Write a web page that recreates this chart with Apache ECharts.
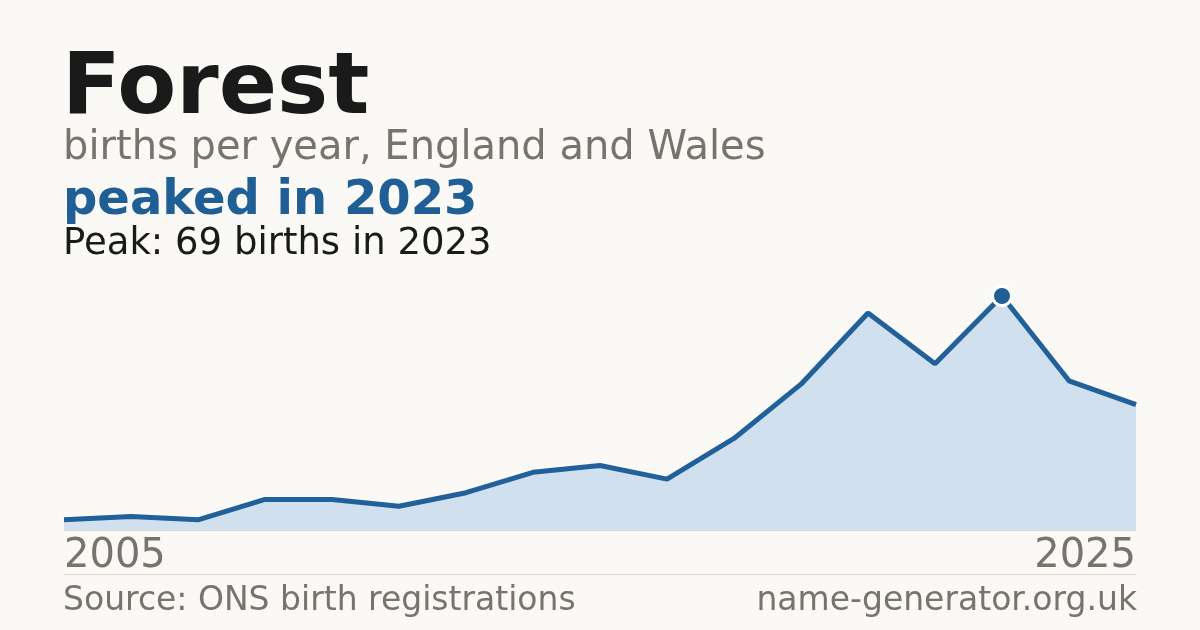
<!DOCTYPE html>
<html>
<head>
<meta charset="utf-8">
<script src="https://cdn.jsdelivr.net/npm/echarts@6/dist/echarts.min.js"></script>
<style>
html,body{margin:0;padding:0;background:#faf9f5;}
#chart{width:1200px;height:630px;}
</style>
</head>
<body>
<div id="chart"></div>
<script>
const years = ['2005','2006','2007','2009','2011','2012','2013','2014','2015','2016','2017','2018','2020','2022','2023','2024','2025'];
const births = [3, 4, 3, 9, 9, 7, 11, 17, 19, 15, 27, 43, 64, 49, 69, 44, 37];
const peakYear = '2023';
const peakValue = 69;

const FONT = 'DejaVu Sans';
const chart = echarts.init(document.getElementById('chart'), null, {renderer: 'canvas'});
const peakIndex = years.indexOf(peakYear);

chart.setOption({
  backgroundColor: '#faf9f5',
  animation: false,
  title: [
    {text: 'Forest', left: 62, top: 48, padding: 0, textStyle: {fontFamily: FONT, fontSize: 86, fontWeight: 'bold', color: '#1a1a1a'}},
    {text: 'births per year, England and Wales', left: 63, top: 129, padding: 0, textStyle: {fontFamily: FONT, fontSize: 40, fontWeight: 'normal', color: '#77736d'}},
    {text: 'peaked in ' + peakYear, left: 63, top: 178, padding: 0, textStyle: {fontFamily: FONT, fontSize: 48, fontWeight: 'bold', color: '#1f5f96'}},
    {text: 'Peak: ' + peakValue + ' births in ' + peakYear, left: 63, top: 226, padding: 0, textStyle: {fontFamily: FONT, fontSize: 37, fontWeight: 'normal', color: '#1a1a1a'}},
    {text: 'Source: ONS birth registrations', left: 63, top: 585, padding: 0, textStyle: {fontFamily: FONT, fontSize: 33, fontWeight: 'normal', color: '#77736d'}},
    {text: 'name-generator.org.uk', right: 63, top: 585, padding: 0, textStyle: {fontFamily: FONT, fontSize: 33, fontWeight: 'normal', color: '#77736d'}}
  ],
  grid: {left: 64, right: 64, top: 296, bottom: 100, containLabel: false},
  xAxis: {
    type: 'category',
    data: years,
    boundaryGap: false,
    axisLine: {show: true, lineStyle: {color: '#dcd8d0', width: 1}},
    axisTick: {show: false},
    splitLine: {show: false},
    axisLabel: {
      show: true,
      interval: function (i) { return i === 0 || i === years.length - 1; },
      alignMinLabel: 'left',
      alignMaxLabel: 'right',
      margin: 7,
      fontFamily: FONT,
      fontSize: 40,
      color: '#77736d'
    }
  },
  yAxis: {
    type: 'value',
    min: 0,
    max: peakValue,
    show: false,
    splitLine: {show: false}
  },
  graphic: [
    {type: 'line', shape: {x1: 64, y1: 574.5, x2: 1136, y2: 574.5}, style: {stroke: '#dcd8d0', lineWidth: 1}, silent: true}
  ],
  series: [
    {
      type: 'line',
      data: births,
      symbol: 'none',
      lineStyle: {color: '#21609a', width: 5},
      areaStyle: {color: '#d0e0ef', opacity: 1},
      z: 2,
      silent: true
    },
    {
      type: 'scatter',
      data: births.map((v, i) => i === peakIndex ? v : null),
      symbol: 'circle',
      symbolSize: 19,
      itemStyle: {color: '#1f5f96', borderColor: '#ffffff', borderWidth: 3, opacity: 1},
      z: 5,
      silent: true
    }
  ]
});
</script>
</body>
</html>
